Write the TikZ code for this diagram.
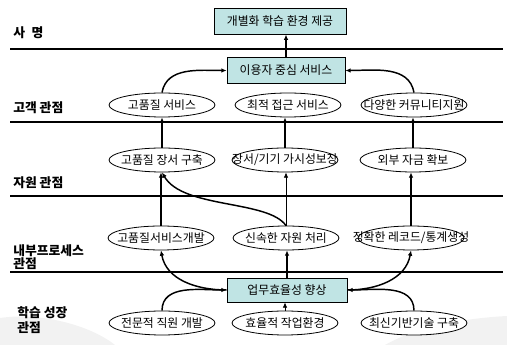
\documentclass[tikz,border=0pt]{standalone}
\usepackage{fontspec}
\setmainfont{Noto Sans CJK KR}
\usepackage{xcolor}
\usepackage{tikz}
\usetikzlibrary{arrows.meta,positioning,shapes.geometric}
\definecolor{boxcol}{RGB}{192,228,228}
\begin{document}
\begin{tikzpicture}[x=0.75pt,y=0.75pt,
  font=\fontsize{8.9}{10}\selectfont,
  goal/.style={ellipse,draw,line width=0.6pt,fill=white,minimum width=79.5pt,minimum height=18pt,inner sep=0pt},
  aim/.style={draw,line width=0.6pt,fill=boxcol,minimum height=19pt,inner sep=0pt},
  flow/.style={-{Latex[length=4pt,width=3.5pt]},line width=1.1pt},
  thin flow/.style={flow,line width=0.6pt},
  tag/.style={anchor=west,font=\fontsize{9.6}{11.5}\selectfont\bfseries,align=left,inner sep=0pt}]
\useasboundingbox (0,0) rectangle (507,345);
% faint watermark at the bottom
\fill[gray!10] (0,27) .. controls (40,33) and (90,20) .. (115,0) -- (0,0) -- cycle;
\fill[gray!10] (385,0) .. controls (420,20) and (470,27) .. (507,29) -- (507,0) -- cycle;
\foreach \y in {296,223,149,73}
  \draw[line width=1.1pt] (10,\y) -- (503,\y);
\node[tag] (t1) at (13,312) {사\hspace{5pt}명};
\node[tag] (t2) at (13,237) {고객 관점};
\node[tag] (t3) at (13,162) {자원 관점};
\node[tag,font=\fontsize{9.6}{10}\selectfont\bfseries] (t4) at (13,88) {내부프로세스\\관점};
\node[tag] (t5) at (17,25) {학습 성장\\관점};
\node[aim,minimum width=99pt] (b1) at (280,323.5) {개별화 학습 환경 제공};
\node[aim,minimum width=88.5pt] (b2) at (286,274.5) {이용자 중심 서비스};
\node[aim,minimum width=90pt,minimum height=18pt] (b3) at (287,55) {업무효율성 향상};
\foreach \n/\x/\y/\lab in {e11/162/240/고품질 서비스, e12/288/240/최적 접근 서비스, e13/414/240/다양한 커뮤니티지원,
    e21/162/185/고품질 장서 구축, e22/285/185/{장서/기기 가시성보장}, e23/413/185/외부 자금 확보,
    e31/161/107/고품질서비스개발, e32/286/107/신속한 자원 처리, e33/411/107/{정확한 레코드/통계생성},
    e41/162/22/전문적 직원 개발, e42/285/22/효율적 작업환경, e43/414/22/최신기반기술 구축}
  \node[goal,label=center:\lab] (\n) at (\x,\y) {};
\draw[flow] (b2.north) -- (b2.north |- b1.south);
\draw[flow] (e11.north) to[out=80,in=180] (b2.west);
\draw[flow] (e13.north) to[out=100,in=0] (b2.east);
\foreach \a/\b in {e21/e11,e22/e12,e23/e13,e31/e21,e33/e23}
  \draw[flow] (\a.north) -- (\a.north |- \b.south);
\draw[thin flow] (e32.north) -- (e32.north |- e22.south);
\draw[flow] (e32.north) to[out=125,in=-60,out looseness=0.6,in looseness=0.8] (e21.south);
\draw[flow] (b3.north) -- (b3.north |- e32.south);
\draw[flow] (b3.west) to[out=180,in=-80] (e31.south);
\draw[flow] (b3.east) to[out=0,in=-100] (e33.south);
\draw[flow] (e41.north) to[out=90,in=180] (b3.west);
\draw[flow] (e43.north) to[out=90,in=0] (b3.east);
\draw[thin flow] (e42.north) -- (e42.north |- b3.south);
\end{tikzpicture}
\end{document}
